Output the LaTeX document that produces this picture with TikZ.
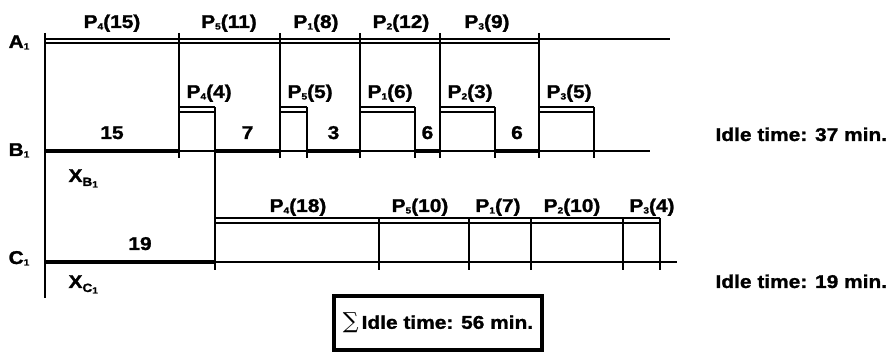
\documentclass[tikz,border=0pt]{standalone}
\usepackage{fontspec}
\setmainfont{Liberation Sans}[FakeStretch=1.13,FakeBold=1.3]
\newfontfamily\sumfont{DejaVu Serif}
\usepackage{tikz}
\usetikzlibrary{positioning}

\newcommand{\low}[1]{\raisebox{-1.5pt}{\fontsize{9}{9}\selectfont #1}}
\newcommand{\xlow}[1]{\raisebox{-4pt}{\fontsize{12}{12}\selectfont #1}}
\newcommand{\job}[2]{P\low{#1}(#2)}

\begin{document}
\begin{tikzpicture}[x=1pt, y=-1pt, line width=1.1pt,
    font=\fontsize{18.5}{21}\selectfont\bfseries,
    lbl/.style={anchor=base, inner sep=0pt},
    lblw/.style={anchor=base west, inner sep=0pt},
    idle/.style={line width=4.8pt}]
    \useasboundingbox (0,0) rectangle (889,352);

    % Machine names
    \node[lbl] (mA) at (19,48) {A\low{1}};
    \node[lbl] (mB) at (19,156) {B\low{1}};
    \node[lbl] (mC) at (19,264) {C\low{1}};

    % Start line
    \draw (45,33) -- (45,298);

    % Machine A
    \draw (45,39) -- (670,39);
    \draw (45,43) -- (539,43);
    \foreach \x in {179,280,360,440,539}
        \draw (\x,33) -- (\x,158);
    \foreach \x/\j/\t in {112/4/15, 229/5/11, 316/1/8, 401/2/12, 487/3/9}
        \node[lbl] (a\j) at (\x,28) {\job{\j}{\t}};

    % Machine B
    \draw (45,151) -- (650,151);
    \foreach \l/\r in {179/215, 280/307, 360/415, 440/495, 539/594} {
        \draw (\l,107) -- (\r,107);
        \draw (\l,112) -- (\r,112);
        \draw (\r,107) -- (\r,158);
    }
    \foreach \l/\j/\t in {179/4/4, 280/5/5, 360/1/6, 440/2/3, 539/3/5}
        \node[lblw] (b\j) at (\l+7,98) {\job{\j}{\t}};
    % idle times on B
    \foreach \l/\r/\t [count=\i] in {45/179/15, 215/280/7, 307/360/3, 415/440/6, 495/539/6} {
        \draw[idle] (\l,151) -- (\r,151);
        \node[lbl] (ib\i) at ({(\l+\r)/2},139) {\t};
    }
    \node[lblw] (xB) at (68,182) {X\xlow{B\low{1}}};
    \node[lblw] (idleB) at (715,141) {Idle time: 37 min.};

    % Machine C
    \draw (215,107) -- (215,270);
    \draw (45,262) -- (677,262);
    \draw[idle] (45,262) -- (215,262);
    \node[lbl] (ic) at (140,250) {19};
    \draw (215,218) -- (660,218);
    \draw (215,223) -- (660,223);
    \foreach \x in {379,469,531,623,660}
        \draw (\x,218) -- (\x,270);
    \foreach \x/\j/\t in {298/4/18, 420/5/10, 498/1/7, 572/2/10, 652/3/4}
        \node[lbl] (c\j) at (\x,212) {\job{\j}{\t}};
    \node[lblw] (xC) at (68,288) {X\xlow{C\low{1}}};
    \node[lblw] (idleC) at (715,288) {Idle time: 19 min.};

    % Total
    \node[draw, line width=3.4pt, minimum width=208pt, minimum height=54pt] (total)
        at (438,323) {{\sumfont\mdseries\fontsize{22}{22}\selectfont ∑}\,Idle time: 56 min.};
\end{tikzpicture}
\end{document}
